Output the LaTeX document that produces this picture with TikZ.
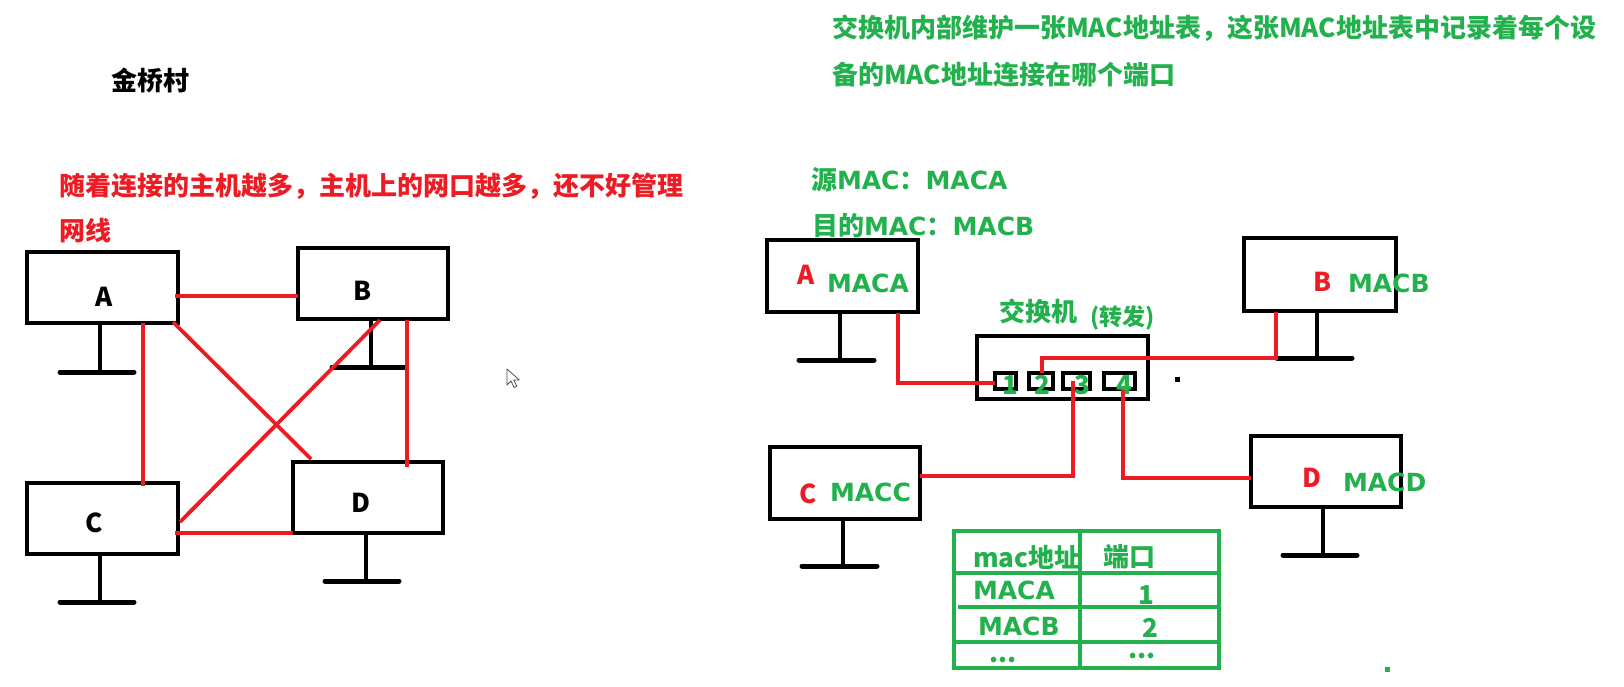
\documentclass[tikz,border=0pt]{standalone}
\usepackage{fontspec}
\setmainfont{Noto Sans CJK SC}
\newfontfamily\lat{DejaVu Sans}
\usetikzlibrary{calc}
\definecolor{pred}{HTML}{ED1C24}
\definecolor{pgreen}{HTML}{22B14C}
\begin{document}
\begin{tikzpicture}[x=1pt,y=-1pt,
  every node/.style={inner sep=0pt, outer sep=0pt, font=\fontsize{26}{30}\selectfont\bfseries},
  monbox/.style={draw=black, line width=4.5pt, minimum width=151pt, minimum height=71pt},
  portbox/.style={draw=black, line width=3.5pt, minimum height=16pt},
  stand/.style={draw=black, line width=4.5pt},
  standbase/.style={draw=black, line width=5pt, line cap=round},
  wire/.style={draw=pred, line width=3.8pt},
  tbl/.style={draw=pgreen, line width=4pt},
  blk/.style={text=black},
  rtxt/.style={text=pred},
  gtxt/.style={text=pgreen},
  latl/.style={font=\fontsize{25}{30}\selectfont\bfseries\lat},
  small/.style={font=\fontsize{23}{27}\selectfont\bfseries},
  dotstxt/.style={text height=5pt, text depth=0pt},
]
\useasboundingbox (0,0) rectangle (1624,686);
\fill[white] (0,0) rectangle (1624,686);

% ---------------- texts left ----------------
\node[blk, anchor=west] (title) at (111,80) {金桥村};
\node[rtxt, anchor=west] (red1) at (59,186) {随着连接的主机越多，主机上的网口越多，还不好管理};
\node[rtxt, anchor=west] (red2) at (59,231) {网线};

% ---------------- left monitors ----------------
\node[monbox] (A) at (102.5,287.5) {};
\node[monbox, minimum width=150pt] (B) at (373,283.5) {};
\node[monbox] (C) at (102.5,518.5) {};
\node[monbox, minimum width=150pt] (D) at (368,497.5) {};
\node[blk] (Alab) at (104,297) {A};
\node[blk] (Blab) at (363,291) {B};
\node[blk] (Clab) at (94,523) {C};
\node[blk] (Dlab) at (361,503) {D};

% stands
\coordinate (Abase) at (100,372);
\coordinate (Bbase) at (371,367);
\coordinate (Cbase) at (100,602);
\coordinate (Dbase) at (366,581);
\draw[stand] (A.south -| Abase) -- (Abase);
\draw[standbase] ([xshift=-40pt]Abase) -- ([xshift=34pt]Abase);
\draw[stand] (B.south -| Bbase) -- (Bbase);
\draw[standbase] ([xshift=-39pt]Bbase) -- ([xshift=34pt]Bbase);
\draw[stand] (C.south -| Cbase) -- (Cbase);
\draw[standbase] ([xshift=-40pt]Cbase) -- ([xshift=34pt]Cbase);
\draw[stand] (D.south -| Dbase) -- (Dbase);
\draw[standbase] ([xshift=-41pt]Dbase) -- ([xshift=33pt]Dbase);

% red wires left
\draw[wire] ([xshift=-3pt,yshift=-8.5pt]A.east) -- ([yshift=-8.5pt]A.east -| B.west);
\draw[wire] ([xshift=40.5pt]A.south) -- ([xshift=40.5pt,yshift=-3pt]C.north);
\draw[wire] ([xshift=-5pt,yshift=1pt]A.south east) -- ([xshift=18pt,yshift=3pt]D.north west);
\draw[wire] ([xshift=7pt,yshift=-1pt]B.south) -- ([xshift=2pt,yshift=-3.5pt]C.east);
\draw[wire] ([xshift=34pt,yshift=-1pt]B.south) -- ([xshift=39pt,yshift=-5pt]D.north);
\draw[wire] ([xshift=-3pt,yshift=-14.5pt]C.east) -- (D.south west);

% cursor
\draw[fill=white, draw=black!70, line width=0.8pt, line join=round]
  (507,369) -- ++(0,16) -- ++(4,-4) -- ++(3,6.5) -- ++(2.8,-1.2) -- ++(-3,-6.3) -- ++(5.5,0) -- cycle;

% ---------------- texts right ----------------
\node[gtxt, anchor=west] (g1) at (832,28) {交换机内部维护一张MAC地址表，这张MAC地址表中记录着每个设};
\node[gtxt, anchor=west] (g2) at (832,75) {备的MAC地址连接在哪个端口};
\node[gtxt, anchor=west] (src) at (811,180) {源{\fontsize{25}{30}\selectfont\lat MAC}：{\fontsize{25}{30}\selectfont\lat MACA}};
\node[gtxt, anchor=west] (dst) at (812,226) {目的{\fontsize{25}{30}\selectfont\lat MAC}：{\fontsize{25}{30}\selectfont\lat MACB}};

% ---------------- right monitors ----------------
\node[monbox, minimum height=72pt] (RA) at (842.5,276) {};
\node[monbox, minimum width=152pt, minimum height=73pt] (RB) at (1320,274.5) {};
\node[monbox, minimum width=150pt, minimum height=72pt] (RC) at (845,483) {};
\node[monbox, minimum width=150pt] (RD) at (1326,471.5) {};

\node[rtxt] (RAl) at (806,275) {A};
\node[gtxt, latl, anchor=west] (RAm) at (827,283) {MACA};
\node[rtxt] (RBl) at (1323,282) {B};
\node[gtxt, latl, anchor=west] (RBm) at (1348,283) {MACB};
\node[rtxt] (RCl) at (808,494) {C};
\node[gtxt, latl, anchor=west] (RCm) at (830,492) {MACC};
\node[rtxt] (RDl) at (1312,478) {D};
\node[gtxt, latl, anchor=west] (RDm) at (1343,482) {MACD};

\coordinate (RAbase) at (840,360);
\coordinate (RBbase) at (1317,358);
\coordinate (RCbase) at (843,566);
\coordinate (RDbase) at (1323,555);
\draw[stand] (RA.south -| RAbase) -- (RAbase);
\draw[standbase] ([xshift=-41pt]RAbase) -- ([xshift=34pt]RAbase);
\draw[stand] (RB.south -| RBbase) -- (RBbase);
\draw[standbase] ([xshift=-40pt]RBbase) -- ([xshift=35pt]RBbase);
\draw[stand] (RC.south -| RCbase) -- (RCbase);
\draw[standbase] ([xshift=-41pt]RCbase) -- ([xshift=34pt]RCbase);
\draw[stand] (RD.south -| RDbase) -- (RDbase);
\draw[standbase] ([xshift=-40pt]RDbase) -- ([xshift=34pt]RDbase);

% switch
\node[monbox, minimum width=171pt, minimum height=63pt] (SW) at (1062.5,367.5) {};
\node[gtxt, anchor=west] (swl) at (999,311) {交换机};
\node[gtxt, small, anchor=west] (swf) at (1090,318) {(转发)};
\node[portbox, minimum width=21pt] (P1) at (1005.5,381) {};
\node[portbox, minimum width=24pt] (P2) at (1041,381) {};
\node[portbox, minimum width=27pt] (P3) at (1076.5,381) {};
\node[portbox, minimum width=31pt] (P4) at (1119.5,381) {};

% red wires right
\draw[wire] ([xshift=-20pt,yshift=-1pt]RA.south east) |- ([yshift=-2pt]P1.west);
\draw[wire] ([xshift=1pt]P2.north) -- ++(0,-15) -| ([xshift=32pt,yshift=-1pt]RB.south west);
\draw[wire] ([xshift=-3.5pt]P3.center) |- ([yshift=7pt]RC.east);
\draw[wire] ([xshift=3.5pt,yshift=2pt]P4.south) |- ([yshift=-6.5pt]RD.west);

\node[gtxt] (n1) at (1010,385) {1};
\node[gtxt] (n2) at (1042,385) {2};
\node[gtxt] (n3) at (1082,385) {3};
\node[gtxt] (n4) at (1124,385) {4};

% dots
\fill[black] (1175,377) rectangle (1180,382);
\fill[pgreen] (1385,667) rectangle (1390,672);

% ---------------- table ----------------
\draw[tbl] (954,531) rectangle (1219,668);
\draw[tbl] (1080,531) -- (1080,668);
\draw[tbl] (954,573) -- (1219,573);
\draw[tbl] (958,607) -- (1219,607);
\draw[tbl] (954,642) -- (1219,642);
\node[gtxt, anchor=west] (h1) at (973,557) {mac地址};
\node[gtxt, anchor=west] (h2) at (1103,557) {端口};
\node[gtxt, latl, anchor=west] (r1a) at (973,590) {MACA};
\node[gtxt] (r1b) at (1146,595) {1};
\node[gtxt, latl, anchor=west] (r2a) at (978,626) {MACB};
\node[gtxt] (r2b) at (1150,628) {2};
\node[gtxt, dotstxt, anchor=base] (r3a) at (1003,662) {...};
\node[gtxt, dotstxt, anchor=base] (r3b) at (1142,658) {...};
\end{tikzpicture}
\end{document}
